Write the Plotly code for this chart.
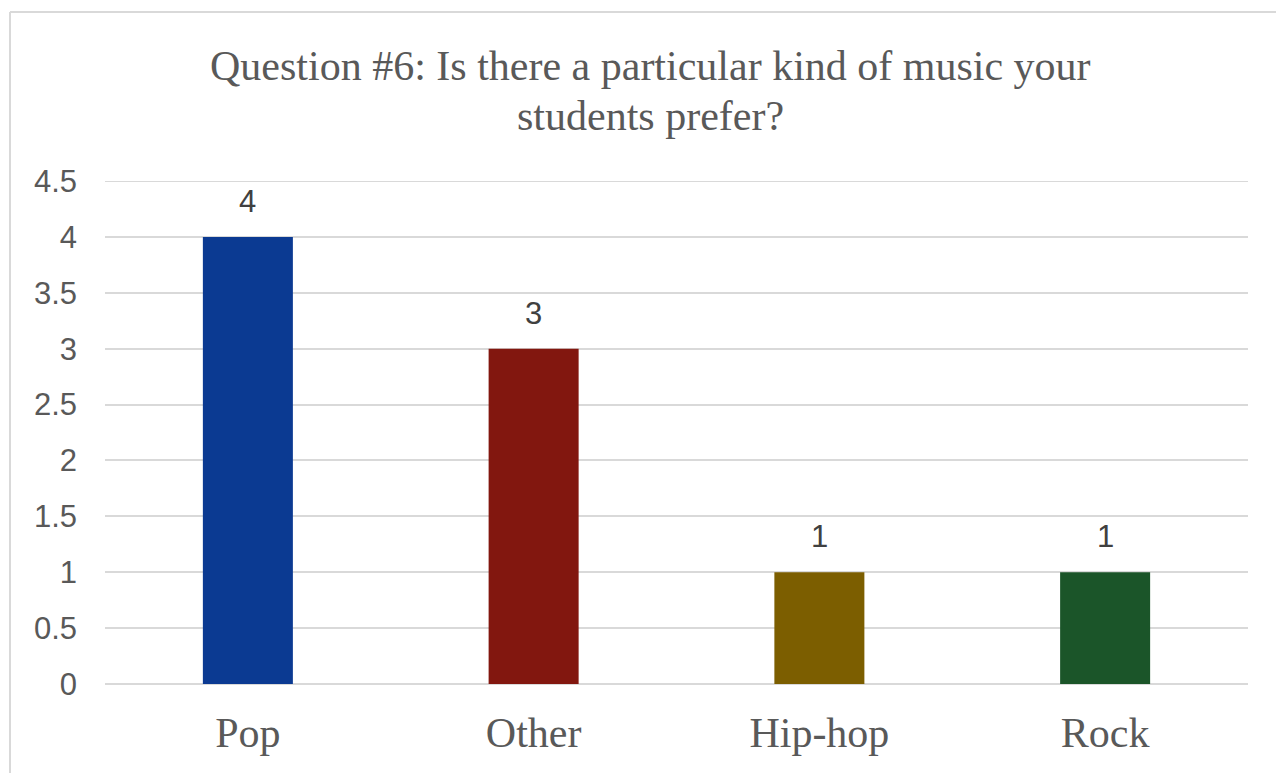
import plotly.graph_objects as go

# Survey responses for question 6
genres = ["Pop", "Other", "Hip-hop", "Rock"]
counts = [4, 3, 1, 1]
bar_colors = ["#0b3a92", "#82170f", "#7c5e00", "#1b5529"]
y_ticks = [0, 0.5, 1, 1.5, 2, 2.5, 3, 3.5, 4, 4.5]
y_tick_text = ["0", "0.5", "1", "1.5", "2", "2.5", "3", "3.5", "4", "4.5"]
title_lines = ["Question #6: Is there a particular kind of music your", "students prefer?"]

W, H = 1276, 773
ML, MR, MT, MB = 105, 28, 181, 89
PW, PH = W - ML - MR, H - MT - MB

SERIF = "Liberation Serif, Times New Roman, serif"
SANS = "Liberation Sans, Arial, sans-serif"


def px_x(x):
    return (x - ML) / PW


def px_y(y):
    return (H - MB - y) / PH


fig = go.Figure(
    go.Bar(
        x=genres,
        y=counts,
        marker=dict(color=bar_colors, line=dict(width=0)),
        width=0.315,
        hoverinfo="x+y",
    )
)

# value labels above each bar
for g, v in zip(genres, counts):
    fig.add_annotation(
        x=g, y=v, text=str(v), showarrow=False,
        yanchor="bottom", yshift=16,
        font=dict(family=SANS, size=31, color="#404040"),
    )

# two-line chart title
for text, yc in zip(title_lines, [66, 116]):
    fig.add_annotation(
        xref="paper", yref="paper", x=px_x(650), y=px_y(yc),
        xanchor="center", yanchor="middle", text=text, showarrow=False,
        font=dict(family=SERIF, size=42, color="#595959"),
    )

# chart frame (left and top edges visible)
frame = dict(color="#d9d9d9", width=2)
fig.add_shape(type="line", xref="paper", yref="paper",
              x0=px_x(10), x1=px_x(10), y0=px_y(12), y1=px_y(H + 10), line=frame)
fig.add_shape(type="line", xref="paper", yref="paper",
              x0=px_x(10), x1=px_x(W + 10), y0=px_y(12), y1=px_y(12), line=frame)
# top gridline at the upper end of the range
fig.add_shape(type="line", xref="paper", yref="y",
              x0=0, x1=1, y0=4.5, y1=4.5, line=dict(color="#d9d9d9", width=2), layer="below")

fig.update_layout(
    width=W, height=H,
    margin=dict(l=ML, r=MR, t=MT, b=MB),
    paper_bgcolor="white", plot_bgcolor="white",
    showlegend=False,
    xaxis=dict(
        showgrid=False, showline=False, ticks="",
        tickfont=dict(family=SERIF, size=42, color="#595959"),
        ticklabelstandoff=20,
    ),
    yaxis=dict(
        range=[0, 4.5], tickvals=y_ticks, ticktext=y_tick_text,
        showgrid=True, gridcolor="#d9d9d9", gridwidth=2,
        zeroline=True, zerolinecolor="#d9d9d9", zerolinewidth=2,
        showline=False, ticks="",
        tickfont=dict(family=SANS, size=31, color="#595959"),
        ticklabelstandoff=27,
    ),
)

fig.write_html("out.html")
